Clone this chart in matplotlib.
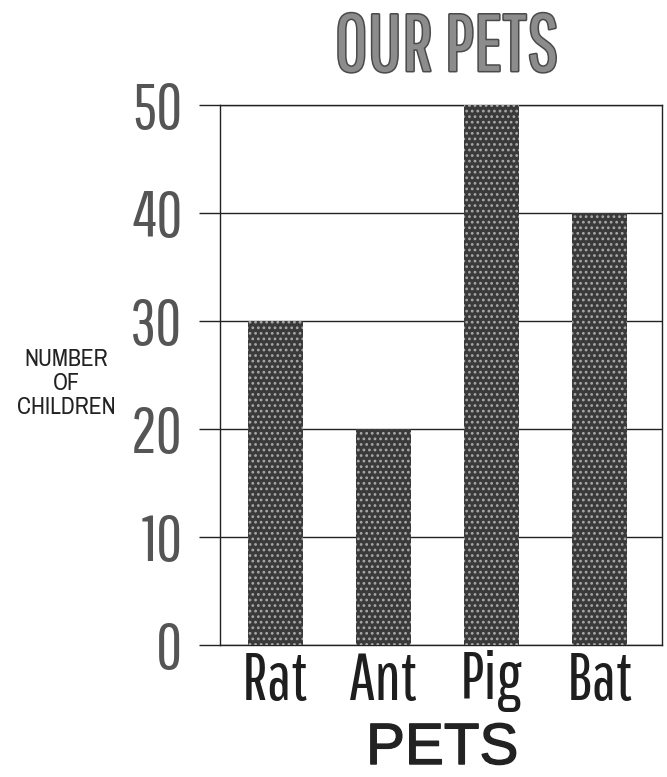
import matplotlib
matplotlib.use("Agg")
import matplotlib.pyplot as plt
import matplotlib.patheffects as pe

# pet survey counts
pets = ["Rat", "Ant", "Pig", "Bat"]
children = [30, 20, 50, 40]
y_ticks = [0, 10, 20, 30, 40, 50]

# tall condensed faces, falling back to plain sans if missing
tall = ["Pathway Gothic One", "Liberation Sans"]
narrow = ["Archivo Narrow", "Liberation Sans"]

# speckled fill for the bars (hatch takes the edge colour)
plt.rcParams["hatch.linewidth"] = 1.2

fig = plt.figure(figsize=(6.67, 7.77), dpi=100, facecolor="white")
ax = fig.add_axes([0.330, 0.170, 0.663, 0.695])

ax.bar(range(len(pets)), children, width=0.51, color="#3a3a3a",
       edgecolor="#a8a8a8", hatch="...", linewidth=0, zorder=3)

ax.set_xlim(-0.51, 3.58)
ax.set_ylim(0, 50)
ax.set_yticks(y_ticks)
ax.set_yticklabels([str(v) for v in y_ticks], family=tall, fontsize=46,
                   color="#555555")
ax.set_xticks(range(len(pets)))
ax.set_xticklabels(pets, family=tall, fontsize=48, color="#1e1e1e")
ax.tick_params(axis="y", length=15, width=1.0, color="#222222", pad=12)
ax.tick_params(axis="x", length=0, pad=4)

ax.grid(axis="y", color="#222222", lw=1.0, zorder=1)
for side in ["left", "right", "top", "bottom"]:
    ax.spines[side].set_color("#222222")
    ax.spines[side].set_linewidth(1.0)

fig.text(0.670, 0.938, "OUR PETS", family=tall, fontsize=58, color="#8c8c8c",
         ha="center", va="center",
         path_effects=[pe.withStroke(linewidth=2.2, foreground="#4a4a4a")])
fig.text(0.099, 0.507, "NUMBER\nOF\nCHILDREN", family=narrow, fontsize=17,
         color="#222222", ha="center", va="center", linespacing=1.18)
fig.text(0.663, 0.036, "PETS", family="Liberation Sans", fontsize=42,
         color="#222222", ha="center", va="center",
         path_effects=[pe.withStroke(linewidth=1.0, foreground="#222222")])

fig.savefig("out.png", dpi=100, facecolor="white")
